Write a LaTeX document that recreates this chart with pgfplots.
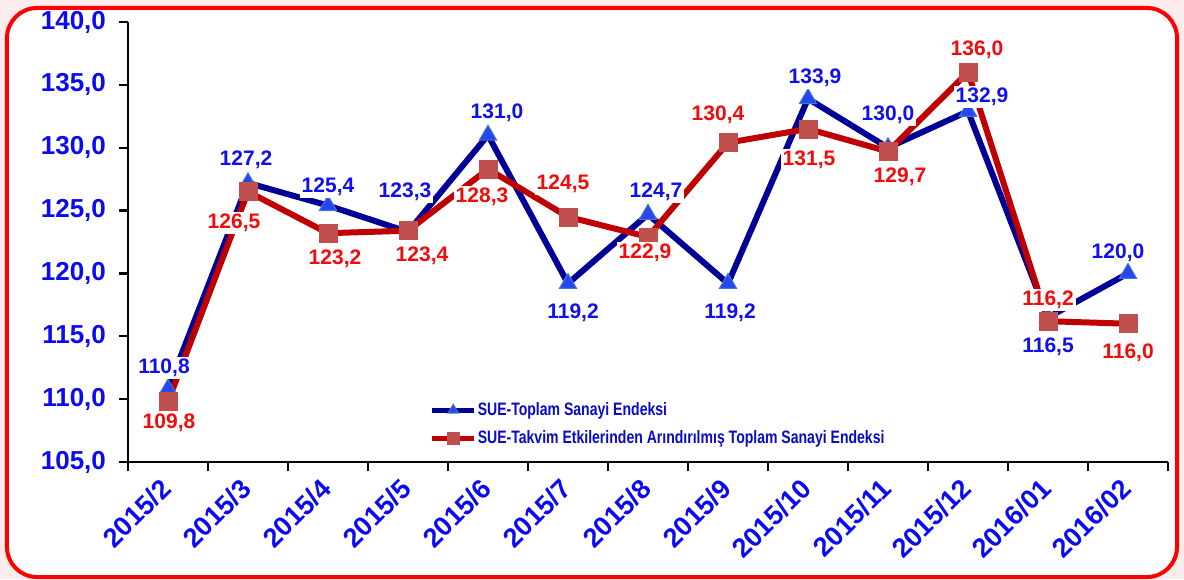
\documentclass[border=0pt]{standalone}
\usepackage{pgfplots}
\pgfplotsset{compat=1.18}
\usepackage{pgfplotstable}
\usepackage{fontspec}
\setmainfont{Liberation Sans}
\newfontfamily\narrowfont{Liberation Sans}[FakeStretch=0.78]
\definecolor{bgpink}{RGB}{252,236,236}
\definecolor{framered}{RGB}{255,0,0}
\definecolor{blueline}{RGB}{0,0,150}
\definecolor{trifill}{RGB}{40,70,240}
\definecolor{triedge}{RGB}{70,120,200}
\definecolor{redline}{RGB}{192,0,0}
\definecolor{sqfill}{RGB}{192,80,77}
\definecolor{tickblue}{RGB}{10,10,245}
\definecolor{labblue}{RGB}{15,15,240}
\definecolor{labred}{RGB}{245,10,10}
\definecolor{legblue}{RGB}{10,10,200}

\pgfplotstableread{
x y dx dy
1 110.8 -2 10.5
2 127.2 -1 11.5
3 125.4 0 9.5
4 123.3 -1.5 20
5 131.0 4.5 11
6 119.2 2.5 -14.75
7 124.7 4 11.25
8 119.2 1 -14.75
9 133.9 3.5 10.25
10 130.0 0 16.5
11 132.9 7 7
12 116.5 0 -14.5
13 120.0 -5 10.5
}\tabA

\pgfplotstableread{
x y dx dy
1 109.8 0.5 -10.75
2 126.5 -7 -15.5
3 123.2 3.5 -12.75
4 123.4 7 -12.75
5 128.3 -3 -13.75
6 124.5 -2.5 16.5
7 122.9 -1.5 -8
8 130.4 -5 14
9 131.5 0.5 -15.5
10 129.7 6 -12.5
11 136.0 4.5 11
12 116.2 0 10.5
13 116.0 0 -14.5
}\tabB

\begin{document}
\begin{tikzpicture}
\fill[bgpink] (-64pt,-58.5pt) rectangle (528pt,231pt);
\draw[framered, line width=2pt, fill=white, rounded corners=15pt] (-60.5pt,-57.5pt) rectangle (524.5pt,227pt);
\begin{axis}[
  scale only axis, width=520pt, height=220pt,
  xmin=0.5, xmax=13.5, ymin=105, ymax=140,
  axis x line*=bottom, axis y line*=left,
  axis line style={-, black, line width=1.2pt},
  xtick={1,...,13},
  xticklabels={2015/2,2015/3,2015/4,2015/5,2015/6,2015/7,2015/8,2015/9,2015/10,2015/11,2015/12,2016/01,2016/02},
  minor xtick={0.5,1.5,...,13.5},
  major x tick style={draw=none},
  ytick={105,110,...,140},
  tick align=outside,
  major tick length=4.5pt, minor tick length=4.5pt,
  tick style={black, line width=1.2pt},
  every tick label/.append style={text=tickblue},
  yticklabel style={font=\fontsize{13}{15}\selectfont\bfseries, xshift=-3pt},
  xticklabel style={font=\fontsize{13.5}{15}\selectfont\bfseries, xshift=1.5pt, yshift=-4pt, rotate=45, anchor=east},
  /pgf/number format/fixed,
  /pgf/number format/fixed zerofill,
  /pgf/number format/precision=1,
  /pgf/number format/use comma,
  /pgf/number format/assume math mode=true,
  clip=false,
  legend style={at={(0.284,0.155)}, anchor=north west, draw=none, fill=none,
    font=\fontsize{9}{10}\selectfont\narrowfont\bfseries, text=legblue, row sep=2pt,
    nodes={inner xsep=0.5pt}},
  legend cell align=left,
  legend image code/.code={\draw[mark repeat=2,mark phase=2, line width=2.5pt, mark size=3pt] plot coordinates {(0pt,0pt) (10.5pt,0pt) (21pt,0pt)};},
]
\addplot[blueline, line width=3pt, mark=triangle*, mark size=5pt,
  mark options={solid, fill=trifill, draw=triedge, line width=0.5pt}] table[x=x,y=y] {\tabA};
\addlegendentry{SUE-Toplam Sanayi Endeksi}
\addplot[redline, line width=3pt, mark=square*, mark size=4.5pt,
  mark options={solid, fill=sqfill, draw=sqfill, line width=0.3pt}] table[x=x,y=y] {\tabB};
\addlegendentry{SUE-Takvim Etkilerinden Arındırılmış Toplam Sanayi Endeksi}

\addplot[draw=none, mark=none, forget plot, nodes near coords, point meta=y,
  visualization depends on={\thisrow{dx}\as\dx},
  visualization depends on={\thisrow{dy}\as\dy},
  every node near coord/.append style={anchor=center, xshift=\dx pt, yshift=\dy pt,
    fill=white, inner sep=1pt, text=labblue, font=\fontsize{10.5}{12}\selectfont\bfseries}
] table[x=x,y=y] {\tabA};
\addplot[draw=none, mark=none, forget plot, nodes near coords, point meta=y,
  visualization depends on={\thisrow{dx}\as\dx},
  visualization depends on={\thisrow{dy}\as\dy},
  every node near coord/.append style={anchor=center, xshift=\dx pt, yshift=\dy pt,
    fill=white, inner sep=1pt, text=labred, font=\fontsize{10.5}{12}\selectfont\bfseries}
] table[x=x,y=y] {\tabB};
\end{axis}
\pgfresetboundingbox
\useasboundingbox (-64pt,-58.5pt) rectangle (528pt,231pt);
\end{tikzpicture}
\end{document}
